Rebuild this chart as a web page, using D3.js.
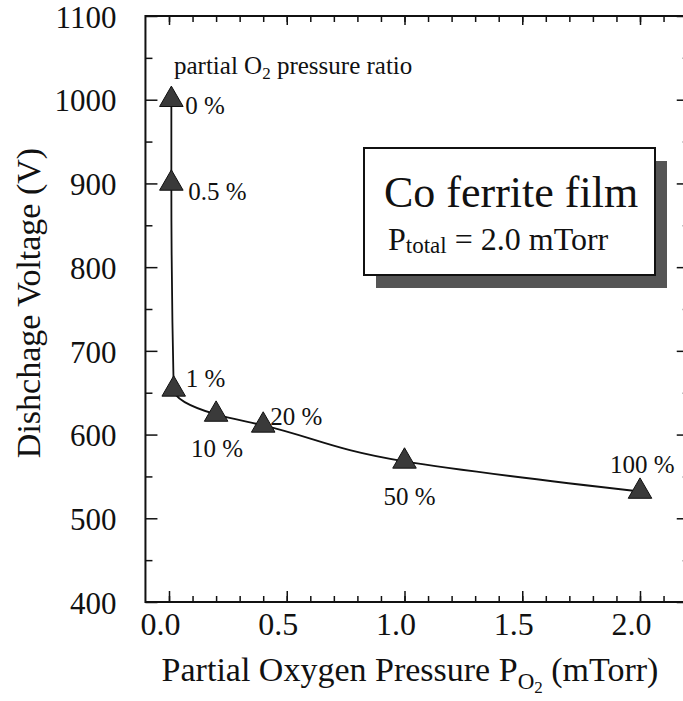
<!DOCTYPE html>
<html>
<head>
<meta charset="utf-8">
<script src="https://cdn.jsdelivr.net/npm/d3@7"></script>
<style>
    body { margin: 0; background: #fff; }
    svg text { font-family: "Times New Roman", Times, "Liberation Serif", "DejaVu Serif", "Noto Serif", Tinos, FreeSerif, serif !important; fill: #111; }
</style>
</head>
<body>
<div id="chart"></div>
<script>
// values
let pressure = [0.01, 0.01, 0.02, 0.2, 0.4, 1.0, 2.0];   // P_O2 in mTorr
let voltage = [1000, 900, 654, 624, 611, 568, 532];      // discharge voltage in V
let ratioLabels = ["0 %", "0.5 %", "1 %", "10 %", "20 %", "50 %", "100 %"];
let xTicks = [0, 0.5, 1.0, 1.5, 2.0];
let xTickLabels = ["0.0", "0.5", "1.0", "1.5", "2.0"];
let yTicks = [400, 500, 600, 700, 800, 900, 1000, 1100];

// where each ratio label sits, relative to its point
let labelShift = [[14, 14], [17, 17], [12, -2], [-25, 43], [7, 0], [-21, 44], [-30, -18]];

let w = 683;
let h = 701;
let xMin = -0.1, xMax = 2.19;
let yMin = 400, yMax = 1100;

let svg = d3.select("#chart")
    .append("svg")
    .attr("width", w)
    .attr("height", h);

let xScale = d3.scaleLinear().domain([0, 2]).range([169, 640]);
let yScale = d3.scaleLinear().domain([yMin, yMax]).range([602, 16]);

let frameL = xScale(xMin), frameR = xScale(xMax);
let frameT = yScale(yMax), frameB = yScale(yMin);

let xMinor = d3.range(0, 2.15, 0.1);
let yMinor = d3.range(450, 1100, 100);

// ticks on all four sides, pointing inward
function ticks(axis, pos, values, size) {
    let g = svg.append("g")
        .attr("transform", pos)
        .call(axis.tickValues(values).tickSizeInner(size).tickSizeOuter(0).tickFormat(""));
    g.select(".domain").remove();
    g.selectAll("line").attr("stroke", "#111").attr("stroke-width", 1.5);
    return g;
}
ticks(d3.axisBottom(xScale), "translate(0," + frameB + ")", xMinor, -6);
ticks(d3.axisTop(xScale), "translate(0," + frameT + ")", xMinor, -6);
ticks(d3.axisTop(xScale), "translate(0," + frameT + ")", xTicks, -9);
ticks(d3.axisLeft(yScale), "translate(" + frameL + ",0)", yMinor, -7);
ticks(d3.axisRight(yScale), "translate(" + frameR + ",0)", yMinor, -2);
ticks(d3.axisRight(yScale), "translate(" + frameR + ",0)", yTicks, -8);

// bottom and left axes with labels
let xAxisGroup = svg.append("g")
    .attr("transform", "translate(0," + frameB + ")")
    .call(d3.axisBottom(xScale).tickValues(xTicks).tickSizeInner(-11).tickSizeOuter(0)
        .tickPadding(10).tickFormat(function (d, i) { return xTickLabels[i]; }));
xAxisGroup.attr("font-family", null).attr("font-size", null);
xAxisGroup.select(".domain").remove();
xAxisGroup.selectAll("line").attr("stroke", "#111").attr("stroke-width", 1.5);
xAxisGroup.selectAll("text")
    .attr("font-size", 32)
    .attr("dx", -9)
    .attr("fill", "#111");

let yAxisGroup = svg.append("g")
    .attr("transform", "translate(" + frameL + ",0)")
    .call(d3.axisLeft(yScale).tickValues(yTicks).tickSizeInner(-12).tickSizeOuter(0)
        .tickPadding(29).tickFormat(d3.format("d")));
yAxisGroup.attr("font-family", null).attr("font-size", null);
yAxisGroup.select(".domain").remove();
yAxisGroup.selectAll("line").attr("stroke", "#111").attr("stroke-width", 1.5);
yAxisGroup.selectAll("text")
    .attr("font-size", 31)
    .attr("dy", "0.36em")
    .attr("fill", "#111");

// frame
svg.append("rect")
    .attr("x", frameL)
    .attr("y", frameT)
    .attr("width", frameR - frameL)
    .attr("height", frameB - frameT)
    .attr("fill", "none")
    .attr("stroke", "#111")
    .attr("stroke-width", 2);

// axis titles
let xTitle = svg.append("text")
    .attr("x", 410)
    .attr("y", 681)
    .attr("text-anchor", "middle")
    .attr("font-size", 34);
xTitle.append("tspan").text("Partial Oxygen Pressure P");
xTitle.append("tspan").attr("dy", 8).attr("font-size", 23).text("O");
xTitle.append("tspan").attr("dy", 4).attr("font-size", 17).text("2");
xTitle.append("tspan").attr("dy", -12).text(" (mTorr)");

svg.append("text")
    .attr("transform", "translate(40,303) rotate(-90)")
    .attr("text-anchor", "middle")
    .attr("font-size", 34)
    .text("Dishchage Voltage (V)");

// fitted curve through the points
let pts = pressure.map(function (p, i) { return [p, voltage[i]]; });
let line = d3.line()
    .x(function (d) { return xScale(d[0]); })
    .y(function (d) { return yScale(d[1]); })
    .curve(d3.curveMonotoneY);
svg.append("path")
    .datum(pts)
    .attr("d", line)
    .attr("fill", "none")
    .attr("stroke", "#111")
    .attr("stroke-width", 1.8);

svg.append("g")
    .selectAll("path")
    .data(pts)
    .enter()
    .append("path")
    .attr("d", d3.symbol().type(d3.symbolTriangle).size(240))
    .attr("transform", function (d) { return "translate(" + xScale(d[0]) + "," + yScale(d[1]) + ")"; })
    .attr("fill", "#3a3a3a")
    .attr("stroke", "#111")
    .attr("stroke-width", 1);

// ratio labels next to the points
svg.append("g")
    .selectAll("text")
    .data(pts)
    .enter()
    .append("text")
    .attr("x", function (d, i) { return xScale(d[0]) + labelShift[i][0]; })
    .attr("y", function (d, i) { return yScale(d[1]) + labelShift[i][1]; })
    .attr("font-size", 25)
    .text(function (d, i) { return ratioLabels[i]; });

let note = svg.append("text")
    .attr("x", 174)
    .attr("y", 74)
    .attr("font-size", 25);
note.append("tspan").text("partial O");
note.append("tspan").attr("dy", 5).attr("font-size", 17).text("2");
note.append("tspan").attr("dy", -5).text(" pressure ratio");

// legend box with drop shadow
let bx = 364, by = 148, bw = 291, bh = 127;
svg.append("rect")
    .attr("x", bx + 12)
    .attr("y", by + 13)
    .attr("width", bw)
    .attr("height", bh)
    .attr("fill", "#555");
svg.append("rect")
    .attr("x", bx)
    .attr("y", by)
    .attr("width", bw)
    .attr("height", bh)
    .attr("fill", "#fff")
    .attr("stroke", "#111")
    .attr("stroke-width", 2);
svg.append("text")
    .attr("x", bx + 20)
    .attr("y", by + 59)
    .attr("font-size", 44)
    .text("Co ferrite film");
let ptot = svg.append("text")
    .attr("x", bx + 24)
    .attr("y", by + 102)
    .attr("font-size", 32);
ptot.append("tspan").text("P");
ptot.append("tspan").attr("dy", 3).attr("font-size", 23).text("total");
ptot.append("tspan").attr("dy", -3).text(" = 2.0 mTorr");
</script>
</body>
</html>
